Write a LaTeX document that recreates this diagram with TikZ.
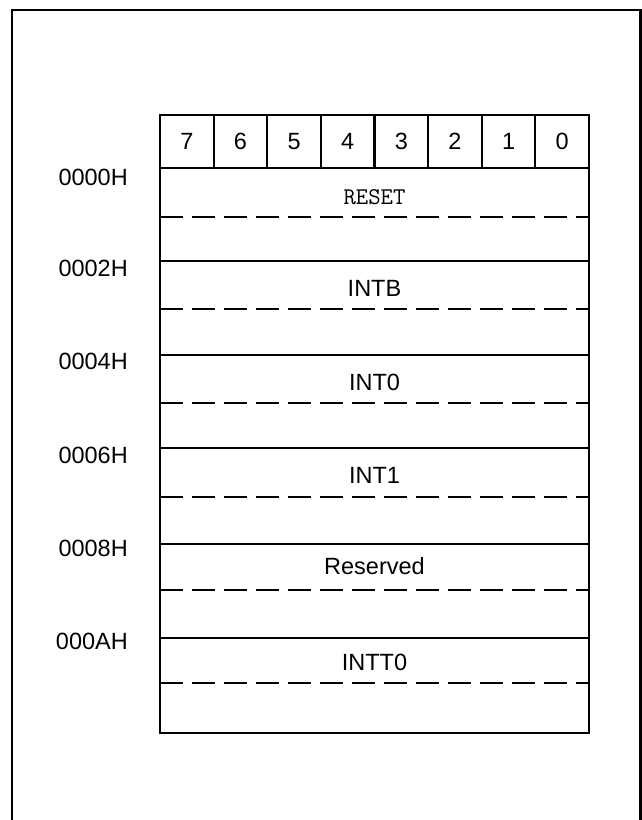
\documentclass[tikz,border=0pt]{standalone}
\usepackage{fontspec}
\setmainfont{Liberation Sans}
\begin{document}
\begin{tikzpicture}[x=1pt,y=-1pt,
  lbl/.style={font=\fontsize{23.5}{28}\selectfont, inner sep=0pt},
  monolbl/.style={font=\ttfamily\fontsize{24}{28}\selectfont, inner sep=0pt},
  addr/.style={lbl, anchor=east},
  outer/.style={line width=2.4pt},
  frame/.style={line width=2.2pt},
  rowline/.style={line width=1.8pt},
  dashline/.style={line width=2.2pt, dash pattern=on 22.7pt off 9.3pt}]
\useasboundingbox (0,0) rectangle (642,820);
\fill[white] (0,0) rectangle (642,820);
% outer frame (open at the bottom)
\draw[outer] (12,820) -- (12,10) -- (640.5,10) -- (640.5,820);
% header
\draw[frame] (160,115) rectangle (589,168);
\foreach \i in {1,...,7} {
  \draw[frame] ({160+\i*53.625},115) -- ({160+\i*53.625},168);
}
\foreach \i in {0,...,7} {
  \pgfmathtruncatemacro{\bit}{7-\i}
  \node[lbl] (bit\bit) at ({160+(\i+0.5)*53.625},141.5) {\bit};
}
% body
\draw[frame] (160,168) -- (160,733) -- (589,733) -- (589,168);
\foreach \y in {261,355,448,544,638} {
  \draw[rowline] (160,\y) -- (589,\y);
}
\foreach \y in {216.7,309.3,403.3,496.7,590,682.7} {
  \draw[dashline] (160,\y) -- (589,\y);
}
% entry labels
\node[monolbl] (reset) at (374.5,197) {RESET};
\node[lbl] (intb) at (374.5,288.5) {INTB};
\node[lbl] (int0) at (374.5,382.5) {INT0};
\node[lbl] (int1) at (374.5,475) {INT1};
\node[lbl] (resv) at (374.5,566.5) {Reserved};
\node[lbl] (intt0) at (374.5,662) {INTT0};
% address labels
\node[addr] (a0) at (128,177) {0000H};
\node[addr] (a2) at (128,268) {0002H};
\node[addr] (a4) at (128,361) {0004H};
\node[addr] (a6) at (128,455) {0006H};
\node[addr] (a8) at (128,548) {0008H};
\node[addr] (aA) at (128,641) {000AH};
\end{tikzpicture}
\end{document}
